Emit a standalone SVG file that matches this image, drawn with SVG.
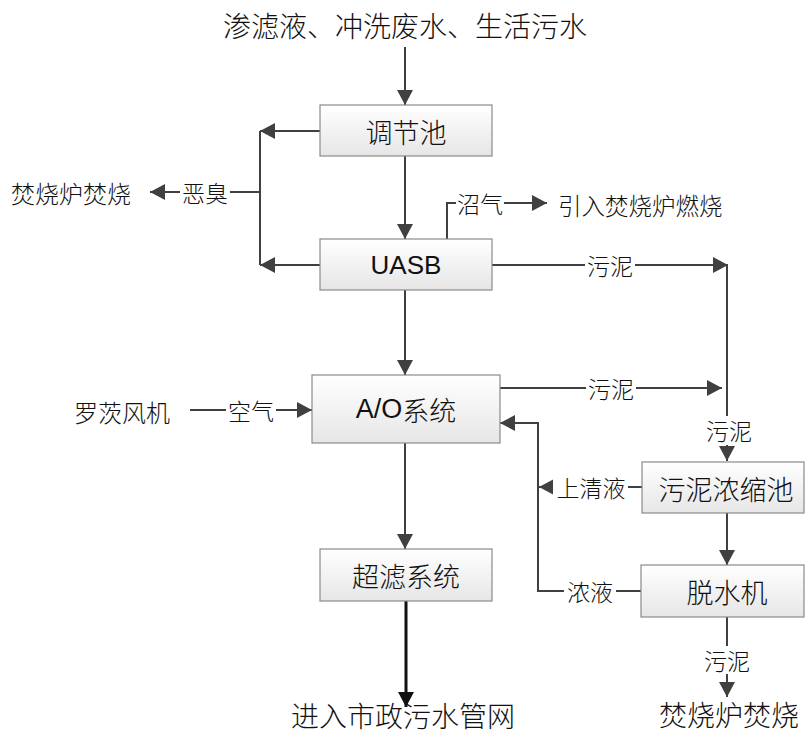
<svg xmlns="http://www.w3.org/2000/svg" width="805" height="734" viewBox="0 0 805 734">
<defs>
<linearGradient id="bg" x1="0" y1="0" x2="0" y2="1">
<stop offset="0" stop-color="#ffffff"/>
<stop offset="1" stop-color="#e6e6e6"/>
</linearGradient>
<marker id="ah" markerUnits="userSpaceOnUse" viewBox="0 0 15 16" refX="15" refY="8" markerWidth="15" markerHeight="16" orient="auto">
<path d="M0,0 L15,8 L0,16 z" fill="#404040"/>
</marker>
<marker id="ahk" markerUnits="userSpaceOnUse" viewBox="0 0 15 16" refX="15" refY="8" markerWidth="15" markerHeight="16" orient="auto">
<path d="M0,0 L15,8 L0,16 z" fill="#111"/>
</marker>
</defs>
<style>
.box{fill:url(#bg);stroke:#8a8a8a;stroke-width:1.2}
.bt{font-family:"Noto Sans CJK SC","Liberation Sans",sans-serif;font-size:27px;font-weight:300;fill:#111;text-anchor:middle;dominant-baseline:central}
.lt{font-family:"Liberation Sans","Noto Sans CJK SC",sans-serif;font-size:26px;fill:#111;text-anchor:middle;dominant-baseline:central}
.big{font-family:"Noto Sans CJK SC",sans-serif;font-size:28px;font-weight:300;fill:#111;text-anchor:middle;dominant-baseline:central}
.lab{font-family:"Noto Sans CJK SC",sans-serif;font-size:23px;font-weight:300;fill:#111;text-anchor:middle;dominant-baseline:central}
.c{fill:none;stroke:#404040;stroke-width:2;marker-end:url(#ah)}
.n{fill:none;stroke:#404040;stroke-width:2}
.lb{fill:#fff}
</style>
<g id="connectors">
<path class="c" d="M405,47 V105"/>
<path class="c" d="M320,131 H260"/>
<path class="n" d="M260,131 V265"/>
<path class="c" d="M260,192 H150"/>
<path class="c" d="M320,265 H260"/>
<path class="c" d="M405,156 V239"/>
<path class="c" d="M447,239 V203 H547"/>
<path class="c" d="M492,265 H728"/>
<path class="c" d="M727,265 V461"/>
<path class="c" d="M405,290 V375"/>
<path class="c" d="M500,388 H722"/>
<path class="c" d="M190,410 H312"/>
<path class="c" d="M405,443 V549"/>
<path fill="none" stroke="#111" stroke-width="3" marker-end="url(#ahk)" d="M406,601 V707"/>
<path class="c" d="M642,487 H539"/>
<path class="c" d="M641,591 H538 V423 H500"/>
<path class="c" d="M727,513 V565"/>
<path class="c" d="M727,617 V697"/>
</g>
<g id="labels">
<rect class="lb" x="180" y="178" width="50" height="28"/><text class="lab" x="205" y="192">恶臭</text>
<rect class="lb" x="456" y="189" width="48" height="28"/><text class="lab" x="480" y="203">沼气</text>
<rect class="lb" x="585" y="251" width="50" height="28"/><text class="lab" x="610" y="265">污泥</text>
<rect class="lb" x="704" y="416" width="50" height="29"/><text class="lab" x="729" y="430">污泥</text>
<rect class="lb" x="586" y="374" width="50" height="28"/><text class="lab" x="611" y="388">污泥</text>
<rect class="lb" x="226" y="396" width="50" height="28"/><text class="lab" x="251" y="410">空气</text>
<rect class="lb" x="553" y="473" width="75" height="28"/><text class="lab" x="591" y="487">上清液</text>
<rect class="lb" x="564" y="577" width="52" height="28"/><text class="lab" x="590" y="591">浓液</text>
<rect class="lb" x="702" y="646" width="50" height="28"/><text class="lab" x="727" y="660">污泥</text>
</g>
<g id="src"><text class="big" x="405" y="25">渗滤液、冲洗废水、生活污水</text></g>
<g id="odor-out"><text class="lab" x="71" y="192" style="font-size:24px">焚烧炉焚烧</text></g>
<g id="gas-out"><text class="lab" x="558" y="205" style="text-anchor:start;font-size:23.5px">引入焚烧炉燃烧</text></g>
<g id="blower"><text class="lab" x="122" y="411" style="font-size:24px">罗茨风机</text></g>
<g id="n1"><rect class="box" x="320" y="105" width="172" height="51"/><text class="bt" x="406" y="131">调节池</text></g>
<g id="n2"><rect class="box" x="320" y="239" width="172" height="51"/><text class="lt" x="406" y="265">UASB</text></g>
<g id="n3"><rect class="box" x="312" y="375" width="188" height="68"/><text class="bt" x="406" y="409"><tspan font-family="Liberation Sans" font-weight="400">A/O</tspan>系统</text></g>
<g id="n4"><rect class="box" x="320" y="549" width="172" height="52"/><text class="bt" x="406" y="575">超滤系统</text></g>
<g id="n5"><rect class="box" x="642" y="462" width="162" height="51"/><text class="bt" x="726" y="488">污泥浓缩池</text></g>
<g id="n6"><rect class="box" x="641" y="565" width="163" height="52"/><text class="bt" x="727" y="591">脱水机</text></g>
<g id="out"><text class="big" x="403" y="715">进入市政污水管网</text></g>
<g id="sludge-out"><text class="big" x="729" y="714">焚烧炉焚烧</text></g>
</svg>
